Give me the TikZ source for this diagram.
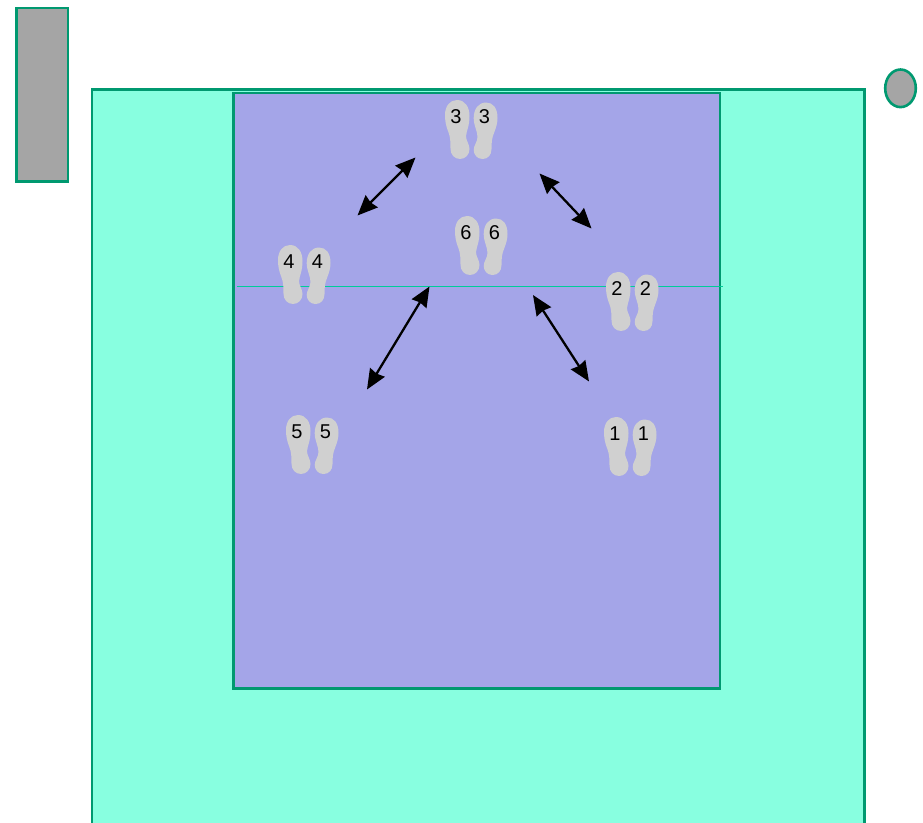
\documentclass[tikz,border=0pt]{standalone}
\usepackage{fontspec}
\setmainfont{Liberation Sans}
\usetikzlibrary{arrows.meta}
\definecolor{court}{HTML}{88FFE0}
\definecolor{edge}{HTML}{009970}
\definecolor{zone}{HTML}{A4A5E8}
\definecolor{panel}{HTML}{A5A5A5}
\definecolor{sole}{HTML}{D0D0D0}
\definecolor{netline}{HTML}{00CC99}
\tikzset{
  x=1pt,y=-1pt,
  box/.style={draw=edge,line width=2.6pt},
  move/.style={line width=2.3pt,black,{Stealth[length=20pt,width=17pt,inset=1.5pt]}-{Stealth[length=20pt,width=17pt,inset=1.5pt]}},
  num/.style={font=\fontsize{20}{20}\selectfont,inner sep=0pt,text=black},
  pics/feet/.style={code={
    \fill[sole] (12,0) .. controls (20,0) and (24.5,7) .. (24.5,16)
      .. controls (24.5,26) and (21.5,31) .. (21,36)
      .. controls (21,41) and (24.5,44) .. (24.5,49)
      .. controls (24.5,54.5) and (20.5,59) .. (15,59)
      .. controls (9.5,59) and (5.5,54.5) .. (5.5,49)
      .. controls (5.5,42) and (5.5,37) .. (3,31)
      .. controls (1,26) and (0,21) .. (0,15)
      .. controls (0,6) and (5,0) .. (12,0) -- cycle;
    \fill[sole] (41,2.5) .. controls (33.5,2.5) and (28.7,9) .. (28.7,18)
      .. controls (28.7,26) and (32.5,31) .. (32.5,37)
      .. controls (32.5,42) and (28.7,45) .. (28.7,50)
      .. controls (28.7,55) and (32.5,59) .. (37.5,59)
      .. controls (43,59) and (46.5,55) .. (46.5,49)
      .. controls (46.5,42) and (47,38) .. (49,33)
      .. controls (51,28) and (52.5,23) .. (52.5,18)
      .. controls (52.5,8) and (48,2.5) .. (41,2.5) -- cycle;
    \node[num] at (11,16.5) {#1};
    \node[num] at (39.5,16.5) {#1};
  }}
}
\begin{document}
\begin{tikzpicture}
\useasboundingbox (0,0) rectangle (923,822);
\begin{scope}
\clip (0,0) rectangle (923,822);
\draw[box,fill=court] (91.8,89.5) rectangle (864.5,840);
\end{scope}
\draw[box,fill=zone] (233.5,92.8) rectangle (720,688.5);
\draw[box,fill=panel] (16.3,7.8) rectangle (67.8,181.3);
\draw[box,fill=panel] (900.5,88.3) ellipse [x radius=15.3,y radius=18.8];
\coordinate (netL) at (237,286);
\coordinate (netR) at (723,286);
\draw[netline,line width=1pt] (netL) -- (netR);
\pic at (445,100) {feet=3};
\pic at (455,216) {feet=6};
\pic at (278,245) {feet=4};
\pic at (606,272) {feet=2};
\pic at (286,415) {feet=5};
\pic at (604,417) {feet=1};
\coordinate (a1) at (357.5,215.5);
\coordinate (a2) at (415.5,157.5);
\coordinate (b1) at (539.5,173.5);
\coordinate (b2) at (591.5,228.5);
\coordinate (c1) at (429.5,286.5);
\coordinate (c2) at (367,389.5);
\coordinate (d1) at (533,295);
\coordinate (d2) at (589,381.5);
\draw[move] (a1) -- (a2);
\draw[move] (b1) -- (b2);
\draw[move] (c1) -- (c2);
\draw[move] (d1) -- (d2);
\end{tikzpicture}
\end{document}
